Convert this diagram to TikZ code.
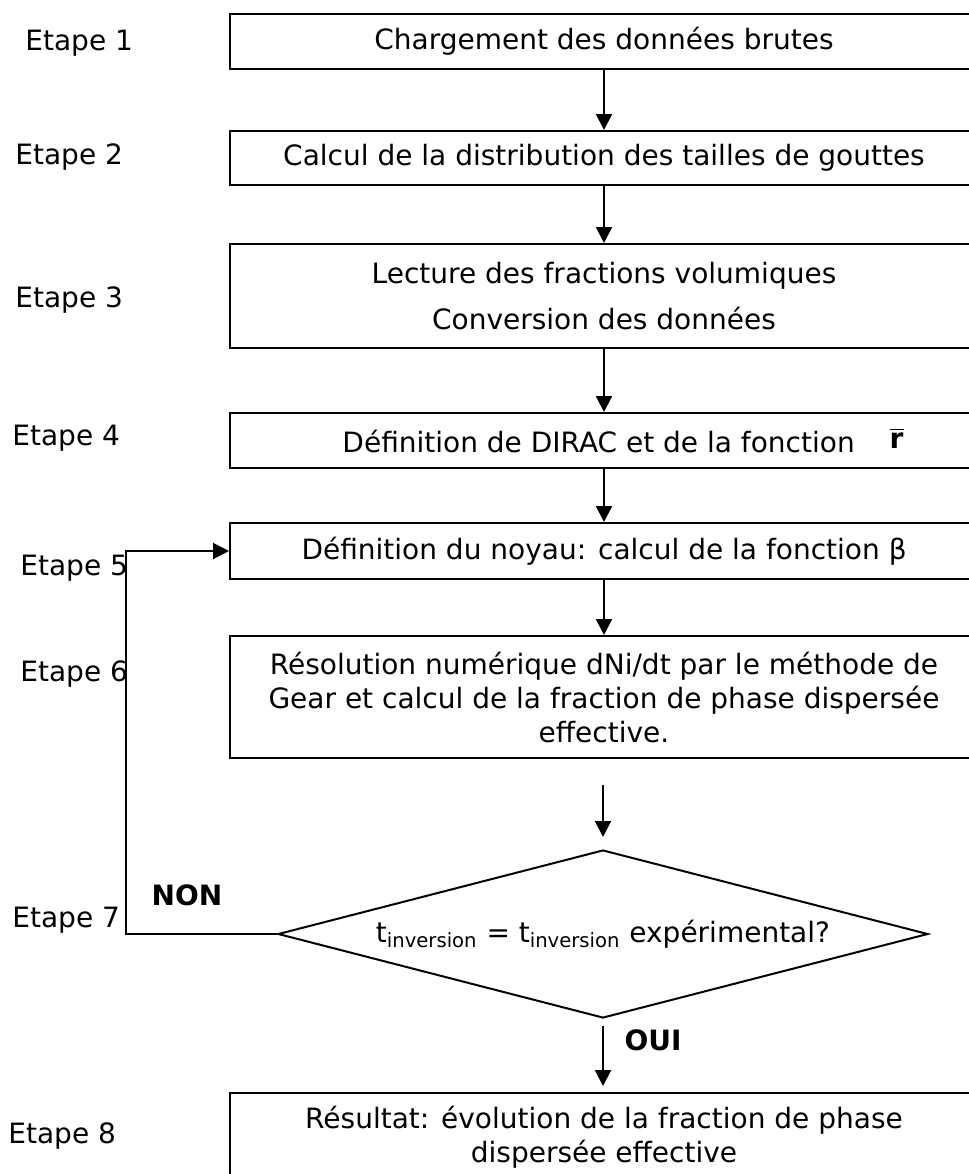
\documentclass[tikz,border=0pt]{standalone}
\usepackage{fontspec}
\setmainfont{DejaVu Sans}
\usepackage{tikz}
\usetikzlibrary{shapes.geometric, arrows.meta, positioning}

\begin{document}
\begin{tikzpicture}[
    x=0.5pt, y=-0.5pt,
    process/.style={rectangle, draw, line width=1pt, minimum width=374pt, inner sep=0pt, anchor=north west, align=center, font=\fontsize{14}{17}\selectfont},
    decision/.style={diamond, aspect=3.87, draw, line width=1pt, minimum width=325pt, minimum height=84pt, inner sep=0pt, align=center, font=\fontsize{14}{17}\selectfont},
    etape/.style={anchor=west, inner sep=0pt, font=\fontsize{14}{17}\selectfont},
    answer/.style={inner sep=0pt, font=\fontsize{14}{17}\selectfont\bfseries},
    arrow/.style={-{Triangle[length=8pt, width=8pt]}, line width=1pt}
]
\useasboundingbox (0,0) rectangle (969,1174);

\node[process, minimum height=27.5pt] (b1) at (229,13) {Chargement des données brutes};
\node[process, minimum height=27pt] (b2) at (229,130) {Calcul de la distribution des tailles de gouttes};
\node[process, minimum height=52pt] (b3) at (229,243) {Lecture des fractions volumiques\\[6pt] Conversion des données};
\node[process, minimum height=27.5pt] (b4) at (229,412) {\hspace*{19pt}Définition de DIRAC et de la fonction\hspace{17.5pt}\raisebox{2pt}{$\overline{\mathbf{r}}$}};
\node[process, minimum height=28pt] (b5) at (229,522) {Définition du noyau: calcul de la fonction β};
\node[process, minimum height=61pt] (b6) at (229,635) {Résolution numérique dNi/dt par le méthode de\\ Gear et calcul de la fraction de phase dispersée\\ effective.};
\node[decision] (dia) at (603,934) {t\textsubscript{inversion} = t\textsubscript{inversion} expérimental?};
\node[process, minimum height=44pt] (b8) at (229,1092) {Résultat: évolution de la fraction de phase\\ dispersée effective};

\node[etape] (e1) at (25,43) {Etape 1};
\node[etape] (e2) at (15,157) {Etape 2};
\node[etape] (e3) at (15,300) {Etape 3};
\node[etape] (e4) at (12,438) {Etape 4};
\node[etape] (e5) at (20,568) {Etape 5};
\node[etape] (e6) at (20,674) {Etape 6};
\node[etape] (e7) at (12,920) {Etape 7};
\node[etape] (e8) at (8,1136) {Etape 8};

\coordinate (g6) at (603,785);

\draw[arrow] (b1) -- (b2);
\draw[arrow] (b2) -- (b3);
\draw[arrow] (b3) -- (b4);
\draw[arrow] (b4) -- (b5);
\draw[arrow] (b5) -- (b6);
\draw[arrow, shorten >=6pt] (g6) -- (dia.north);
\draw[arrow, shorten <=3.5pt, shorten >=3pt] (dia.south) -- (b8.north -| dia.south);
\draw[arrow] (dia.west) -- ++(-151,0) |- (b5.west);
\node[answer] (non) at (187,895) {NON};
\node[answer] (oui) at (653,1040) {OUI};

\end{tikzpicture}
\end{document}
